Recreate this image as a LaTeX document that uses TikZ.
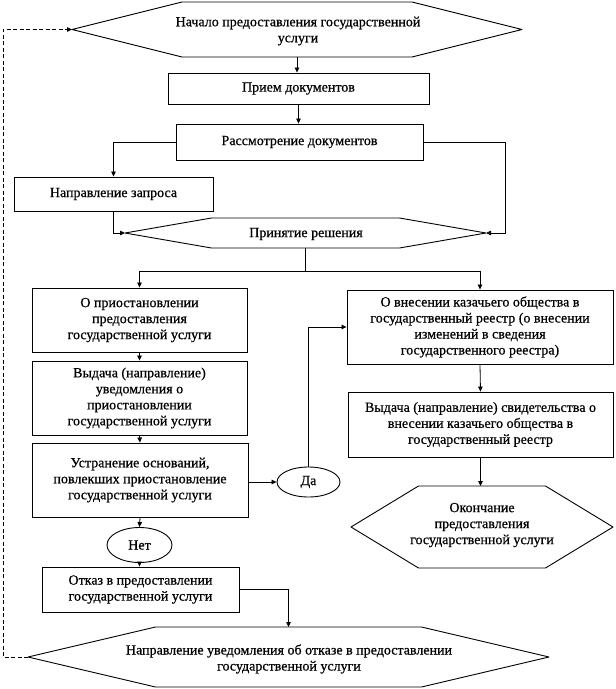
\documentclass[tikz,border=0pt]{standalone}
\usepackage{fontspec}
\setmainfont[FakeBold=0.6]{Liberation Serif}
\usetikzlibrary{arrows.meta,shapes.geometric,calc}
\newcommand\hexpath[6]{% name, cx, cy, half flat, half tip, half height
  \draw[hexline] (#2-#4,#3-#6) -- (#2+#4,#3-#6) -- (#2+#5,#3) -- (#2+#4,#3+#6)
    -- (#2-#4,#3+#6) -- (#2-#5,#3) -- cycle;
  \coordinate (#1 l) at (#2-#5,#3);
  \coordinate (#1 r) at (#2+#5,#3);
  \coordinate (#1 t) at (#2,#3-#6);
  \coordinate (#1 b) at (#2,#3+#6);
  \node[txt] (#1) at (#2,#3) {};}
\tikzset{
  txt/.style={align=center,inner sep=0pt,font=\fontsize{14}{16}\selectfont},
  hexline/.style={line width=0.9pt,line join=round},
  box/.style={draw,line width=0.9pt,align=center,inner sep=0pt,
    font=\fontsize{14}{16}\selectfont},
  oval/.style={draw,ellipse,line width=0.9pt,inner sep=0pt,
    font=\fontsize{14}{16}\selectfont},
  arr/.style={line width=0.8pt,-{Triangle[length=5pt,width=4.5pt]}},
  ln/.style={line width=0.8pt},
  dash line/.style={line width=0.8pt,dash pattern=on 4pt off 2.5pt,-{Triangle[length=5pt,width=4.5pt]}}
}
\begin{document}
\begin{tikzpicture}[x=1pt,y=-1pt]
\useasboundingbox[fill=white] (0,0) rectangle (616,689);
% hexagons
\hexpath{start}{297}{29.5}{115}{225}{27.5}
\node[txt] at (298,31) {Начало предоставления государственной\\услуги};
\hexpath{dec}{305.5}{233}{94}{180.5}{15}
\node[txt] at (306,234) {Принятие решения};
\hexpath{fin}{482}{527}{63.5}{131}{41}
\node[txt] at (482,525) {Окончание\\предоставления\\государственной услуги};
\hexpath{refuse}{288.5}{657}{133}{260.5}{30}
\node[txt] at (289,659) {Направление уведомления об отказе в предоставлении\\государственной услуги};
% boxes
\node[box,minimum width=261pt,minimum height=31pt] (priem) at (298.5,88.5) {Прием документов};
\node[box,minimum width=247pt,minimum height=36pt] (rassm) at (299.5,142) {Рассмотрение документов};
\node[box,minimum width=199pt,minimum height=34pt] (zapros) at (113.5,194) {Направление запроса};
\node[box,minimum width=215pt,minimum height=64pt] (L1) at (139.5,320) {О приостановлении\\предоставления\\государственной услуги};
\node[box,minimum width=215pt,minimum height=74pt] (L2) at (139.5,398) {Выдача (направление)\\уведомления о\\приостановлении\\государственной услуги};
\node[box,minimum width=216pt,minimum height=74pt] (L3) at (140,480) {Устранение оснований,\\повлекших приостановление\\государственной услуги};
\node[oval,minimum width=65pt,minimum height=35pt] (net) at (139.5,545) {Нет};
\node[box,minimum width=197pt,minimum height=45pt] (otkaz) at (140.5,589.5) {Отказ в предоставлении\\государственной услуги};
\node[oval,minimum width=63pt,minimum height=30pt] (da) at (308.5,482) {Да};
\node[box,minimum width=266pt,minimum height=74pt] (R1) at (480,327) {О внесении казачьего общества в\\государственный реестр (о внесении\\изменений в сведения\\государственного реестра)};
\node[box,minimum width=265pt,minimum height=65pt] (R2) at (480.5,424.5) {Выдача (направление) свидетельства о\\внесении казачьего общества в\\государственный реестр};
% connectors
\draw[arr] (start b) -- (start b |- priem.north);
\draw[arr] (priem.south) -- (priem.south |- rassm.north);
\draw[arr] (rassm.west) -| (zapros.north);
\draw[arr] (rassm.east) -- ++(82,0) |- (dec r);
\draw[arr] (zapros.south) |- (dec l);
\draw[ln] (dec b) -- ++(0,23) coordinate (split);
\draw[arr] (split) -| (L1.north);
\draw[arr] (split) -| (R1.north);
\draw[arr] (L1.south) -- (L2.north);
\draw[arr] (L2.south) -- (L3.north);
\draw[arr] (L3.south) -- (net.north);
\draw[arr] (net.south) -- (net.south |- otkaz.north);
\draw[arr] (L3.east |- da.west) -- (da.west);
\draw[arr] (da.north) |- (R1.west);
\draw[arr] (R1.south) -- (R2.north);
\draw[arr] (R2.south) -- (R2.south |- fin t);
\draw[arr] (otkaz.east) -| (refuse t);
\draw[dash line] (refuse l) -- (3,657) |- (start l);
\end{tikzpicture}
\end{document}
